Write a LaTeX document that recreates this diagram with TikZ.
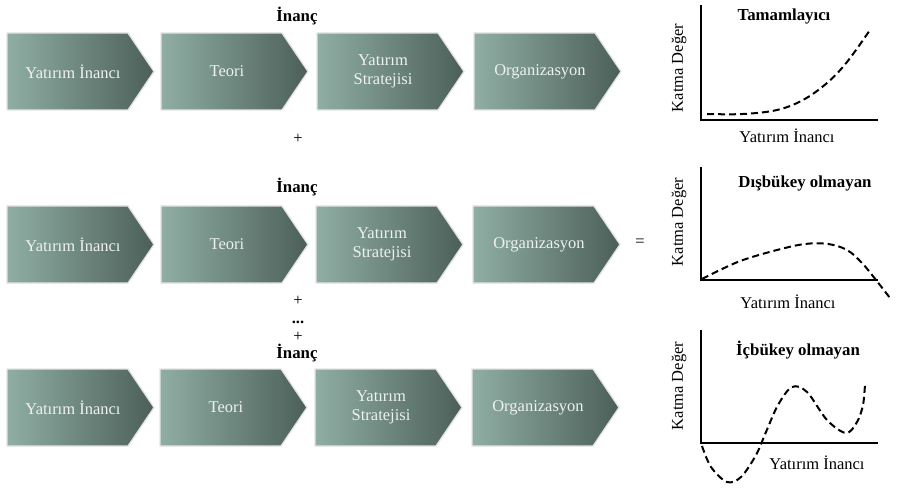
\documentclass[tikz,border=0pt]{standalone}
\usepackage{fontspec}
\setmainfont{Liberation Serif}
\begin{document}
\begin{tikzpicture}[x=1pt,y=-1pt,
  chevbox/.style={left color=chevL,right color=chevR,draw=gray!22,line width=1.3pt},
  chevtext/.style={text=chevT,font=\fontsize{16.5}{18.5}\selectfont,align=center},
  lbl/.style={font=\fontsize{16.5}{18}\selectfont},
  sym/.style={font=\fontsize{16.5}{18}\selectfont,inner sep=0pt},
  ttl/.style={font=\bfseries\fontsize{16.8}{18}\selectfont},
  axisline/.style={line width=2pt},
  dcurve/.style={line width=2pt,dash pattern=on 7pt off 4pt}]
\definecolor{chevL}{HTML}{90AEA4}
\definecolor{chevR}{HTML}{4B5F58}
\definecolor{chevT}{HTML}{EEF2EF}
\useasboundingbox (0,0) rectangle (897,489);
\newcommand\mychev[4]{%
  \path[chevbox] (#1,#2) -- ++(121,0) -- ++(26,38.5) -- ++(-26,38.5) -- ++(-121,0) -- cycle;
  \node[chevtext] (#3) at (#1+66,#2+38.5) {#4};}
% row 1
\mychev{7}{33}{a1}{Yatırım İnancı}
\mychev{161}{33}{a2}{Teori}
\mychev{317}{33}{a3}{Yatırım\\Stratejisi}
\mychev{474}{33}{a4}{Organizasyon}
% row 2
\mychev{7}{206}{b1}{Yatırım İnancı}
\mychev{161}{206}{b2}{Teori}
\mychev{316}{206}{b3}{Yatırım\\Stratejisi}
\mychev{473}{206}{b4}{Organizasyon}
% row 3
\mychev{7}{369}{c1}{Yatırım İnancı}
\mychev{160}{369}{c2}{Teori}
\mychev{315}{369}{c3}{Yatırım\\Stratejisi}
\mychev{472}{369}{c4}{Organizasyon}
% labels
\node[ttl] (i1) at (297,16) {İnanç};
\node[ttl] (i2) at (297,187) {İnanç};
\node[ttl] (i3) at (297,353) {İnanç};
\node[sym] (p1) at (298,139) {+};
\node[sym] (p2) at (298,301) {+};
\node[sym,anchor=base] (dots) at (298,323) {\textbf{...}};
\node[sym] (p3) at (298,337) {+};
\node[sym] (eq) at (640,243) {=};
% graph 1
\coordinate (g1t) at (701,5);
\coordinate (g1o) at (701,120);
\coordinate (g1r) at (878,120);
\draw[axisline] (g1t) -- (g1o) -- (g1r);
\node[ttl] (t1) at (784,16) {Tamamlayıcı};
\node[lbl,rotate=90] (k1) at (679,68) {Katma Değer};
\node[lbl] (x1) at (787,136) {Yatırım İnancı};
\draw[dcurve] plot[smooth,tension=0.6] coordinates {(707,114) (743,114) (777,110) (803,100) (827,83) (847,62) (870,30)};
% graph 2
\coordinate (g2t) at (701,167);
\coordinate (g2o) at (701,280);
\coordinate (g2r) at (878,280);
\draw[axisline] (g2t) -- (g2o) -- (g2r);
\node[ttl] (t2) at (805,183) {Dışbükey olmayan};
\node[lbl,rotate=90] (k2) at (679,222) {Katma Değer};
\node[lbl] (x2) at (788,302) {Yatırım İnancı};
\draw[dcurve] plot[smooth,tension=0.6] coordinates {(702,279) (720,270) (743,260) (777,250) (805,244) (828,244) (847,250) (862,263) (876,280) (890,298)};
% graph 3
\coordinate (g3t) at (701,330);
\coordinate (g3o) at (701,443);
\coordinate (g3r) at (878,443);
\draw[axisline] (g3t) -- (g3o) -- (g3r);
\node[ttl] (t3) at (798,350) {İçbükey olmayan};
\node[lbl,rotate=90] (k3) at (679,386) {Katma Değer};
\node[lbl] (x3) at (817,463) {Yatırım İnancı};
\draw[dcurve] plot[smooth,tension=0.55] coordinates {(702,446) (711,467) (727,482) (741,477) (756,455) (766,432) (778,405) (792,387) (807,392) (827,420) (846,433) (857,422) (863,405) (865,384)};
\end{tikzpicture}
\end{document}
